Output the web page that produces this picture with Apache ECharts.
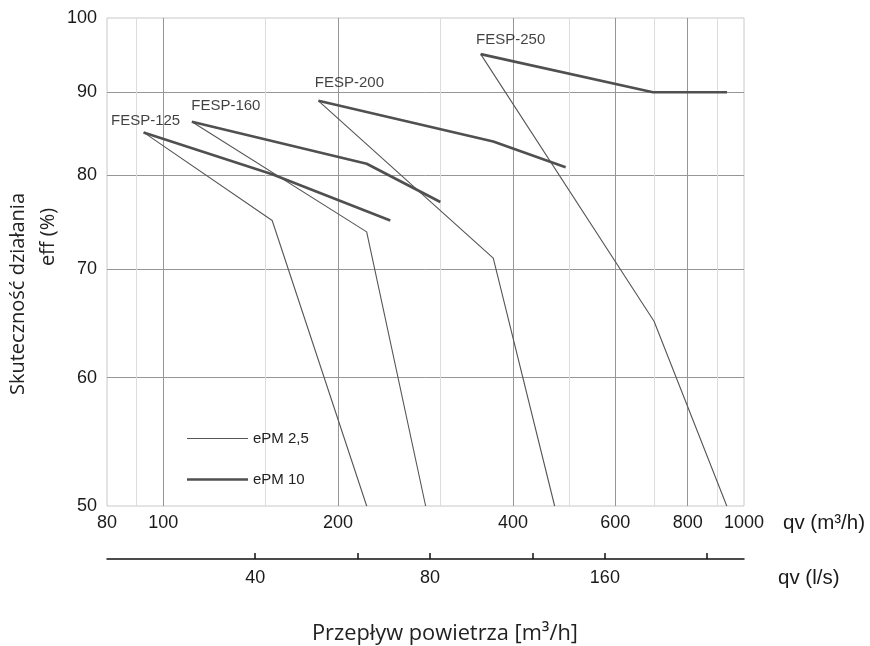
<!DOCTYPE html>
<html><head><meta charset="utf-8">
<script src="https://cdn.jsdelivr.net/npm/echarts@6/dist/echarts.min.js"></script>
<style>html,body{margin:0;padding:0;background:#fff}#c{width:870px;height:646px}</style>
</head><body><div id="c"></div>
<script>
// ---- data (qv m3/h, efficiency %) ----
const models = ['FESP-125', 'FESP-160', 'FESP-200', 'FESP-250'];
const ePM25_125 = [[92.5, 85.0], [154, 75.0], [224, 50]];
const ePM25_160 = [[112, 86.3], [224, 73.8], [283, 50]];
const ePM25_200 = [[185, 88.9], [370, 71.1], [472, 50]];
const ePM25_250 = [[352, 95.0], [700, 65.0], [934, 50]];
const ePM10_125 = [[92.5, 85.0], [154, 80.1], [246, 75.0]];
const ePM10_160 = [[112, 86.3], [224, 81.3], [300, 77.0]];
const ePM10_200 = [[185, 88.9], [370, 83.9], [493, 80.9]];
const ePM10_250 = [[352, 95.0], [697, 90.0], [935, 90.0]];
const xTicksM3h = [80, 100, 200, 400, 600, 800, 1000];
const xMajorGrid = [100, 200, 400, 600, 800];
const xMinorGrid = [90, 150, 300, 500, 700, 900];
const yTicks = [50, 60, 70, 80, 90, 100];
const yGrid = [60, 70, 80, 90];
const xTicksLs = [40, 80, 160];
const xTickMarksLs = [40, 60, 80, 120, 160, 240];
const M3H_PER_LS = 3.6;

// ---- styling ----
const thinSets = [ePM25_125, ePM25_160, ePM25_200, ePM25_250];
const thickSets = [ePM10_125, ePM10_160, ePM10_200, ePM10_250];
const labelOffsets = [[2, -12], [34, -16], [31, -18], [30, -14]];
const ARIAL = 'Liberation Sans, Arial, sans-serif';
const tickFont = { fontFamily: ARIAL, fontSize: 18, color: '#1a1a1a' };
const unitFont = { fontFamily: ARIAL, fontSize: 20.5, color: '#1a1a1a' };
const titleFont = 'Open Sans, sans-serif';
const plain = function (v) { return String(Math.round(v)); };
const X_MIN = 80, X_MAX = 1000;

const series = [];
thinSets.forEach(function (d) {
  series.push({ type: 'line', name: 'ePM 2,5', data: d, symbol: 'none', silent: true,
    lineStyle: { color: '#555', width: 1.1 }, itemStyle: { color: '#555' } });
});
thickSets.forEach(function (d) {
  series.push({ type: 'line', name: 'ePM 10', data: d, symbol: 'none', silent: true,
    lineStyle: { color: '#505050', width: 2.6 }, itemStyle: { color: '#505050' } });
});
series.push({
  type: 'scatter', name: 'labels', symbol: 'circle', symbolSize: 1, silent: true,
  itemStyle: { color: 'rgba(0,0,0,0)' },
  data: models.map(function (m, i) {
    return { name: m, value: thinSets[i][0], label: { offset: labelOffsets[i] } };
  }),
  label: { show: true, position: 'inside', formatter: '{b}',
    fontFamily: ARIAL, fontSize: 15, color: '#111' }
});

function dummyX(min, max, offset, name, gap) {
  return { type: 'log', logBase: 10, min: min, max: max, position: 'bottom', offset: offset,
    axisLine: { show: false, onZero: false }, axisTick: { show: false }, axisLabel: { show: false },
    splitLine: { show: false }, name: name, nameLocation: 'end', nameGap: gap, nameTextStyle: unitFont };
}

const legendText = { fontFamily: ARIAL, fontSize: 15, color: '#222' };
const chart = echarts.init(document.getElementById('c'), null, { renderer: 'canvas' });
chart.setOption({
  animation: false,
  backgroundColor: '#fff',
  title: { text: 'Przepływ powietrza [m³/h]', left: 312, top: 623, padding: 0,
    textStyle: { fontFamily: titleFont, fontSize: 21.8, fontWeight: 'normal', color: '#222' } },
  legend: [
    { data: ['ePM 2,5'], orient: 'vertical', left: 187, top: 431, padding: 0, icon: 'rect',
      itemWidth: 61, itemHeight: 1.2, itemGap: 0, selectedMode: false, textStyle: legendText },
    { data: ['ePM 10'], orient: 'vertical', left: 187, top: 472, padding: 0, icon: 'rect',
      itemWidth: 61, itemHeight: 2.6, itemGap: 0, selectedMode: false, textStyle: legendText }
  ],
  grid: { left: 107, top: 18, width: 637, height: 488, show: true, borderColor: '#c8c8c8', borderWidth: 1,
    containLabel: false, outerBoundsMode: 'none' },
  xAxis: [
    { type: 'log', logBase: 10, min: X_MIN, max: X_MAX, position: 'bottom',
      axisLine: { show: false, onZero: false },
      axisTick: { show: false, customValues: xMajorGrid },
      axisLabel: Object.assign({ customValues: xTicksM3h, margin: 8, formatter: plain }, tickFont),
      splitLine: { show: true, lineStyle: { color: '#969696', width: 1 } } },
    { type: 'log', logBase: 10, min: X_MIN, max: X_MAX, position: 'top',
      axisLine: { show: false, onZero: false },
      axisTick: { show: false, customValues: xMinorGrid },
      axisLabel: { show: false },
      splitLine: { show: true, lineStyle: { color: '#dcdcdc', width: 1 } } },
    { type: 'log', logBase: 10, min: X_MIN / M3H_PER_LS, max: X_MAX / M3H_PER_LS, position: 'bottom', offset: 53,
      axisLine: { show: true, onZero: false, lineStyle: { color: '#111', width: 1.5 } },
      axisTick: { show: true, inside: true, length: 6, customValues: xTickMarksLs, lineStyle: { color: '#111', width: 1.5 } },
      axisLabel: Object.assign({ customValues: xTicksLs, margin: 10, formatter: plain }, tickFont),
      splitLine: { show: false } },
    dummyX(X_MIN, X_MAX, 17, 'qv (m³/h)', 39),
    dummyX(X_MIN, X_MAX, 72, 'qv (l/s)', 34)
  ],
  yAxis: {
    type: 'log', logBase: 10, min: 50, max: 100,
    axisLine: { show: false },
    axisTick: { show: false, customValues: yGrid },
    axisLabel: Object.assign({ customValues: yTicks, margin: 10, formatter: plain }, tickFont),
    splitLine: { show: true, lineStyle: { color: '#969696', width: 1 } },
    name: '{a|Skuteczność działania}\n{b|eff (%)}', nameLocation: 'middle', nameGap: 44,
    nameMoveOverlap: false,
    nameTextStyle: { fontFamily: titleFont, fontSize: 20, color: '#222', lineHeight: 30,
      rich: {
        a: { fontFamily: titleFont, fontSize: 20, color: '#222', lineHeight: 30, padding: [0, 64, 0, 0] },
        b: { fontFamily: titleFont, fontSize: 20, color: '#222', lineHeight: 30, padding: [0, 0, 0, 50] }
      } }
  },
  series: series
});
</script>
</body></html>
